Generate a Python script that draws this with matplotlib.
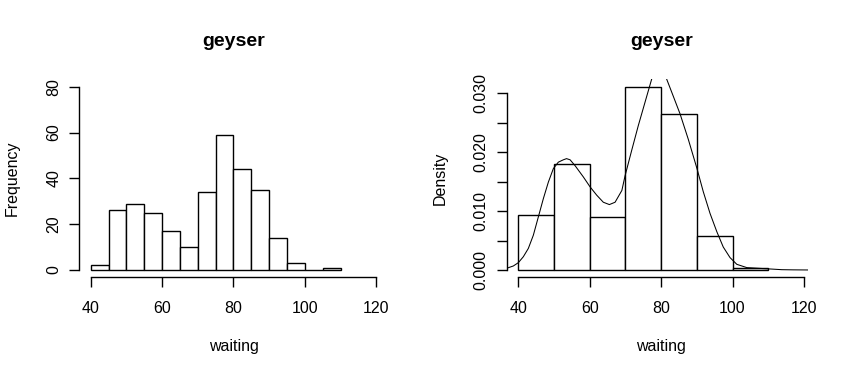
import matplotlib
matplotlib.use("Agg")
import matplotlib.pyplot as plt
import numpy as np

plt.rcParams["font.family"] = ["Liberation Sans", "DejaVu Sans"]

# geyser waiting times, 5-unit bins -> counts
freq_edges = [40, 45, 50, 55, 60, 65, 70, 75, 80, 85, 90, 95, 100, 105, 110]
freq_counts = [2, 26, 29, 25, 17, 10, 34, 59, 44, 35, 14, 3, 0, 1]

# same data, 10-unit bins -> density
dens_edges = [40, 50, 60, 70, 80, 90, 100, 110]
dens_values = [0.00936, 0.01806, 0.00903, 0.03110, 0.02642, 0.00569, 0.00033]

# density curve
kde_x = [34.0, 36.75, 38.6, 40.0, 41.4, 42.8, 44.2, 45.6, 47.0, 48.4, 49.8,
         51.2, 52.6, 53.5, 54.5, 55.9, 58.2, 60.1, 61.95, 63.8, 65.5, 67.1,
         69.0, 69.9, 71.75, 73.6, 75.5, 77.35, 78.5, 79.5, 80.5, 81.55, 83.4,
         85.3, 87.6, 90.0, 91.8, 93.7, 95.6, 97.4, 99.3, 101.2, 104.0, 106.8,
         110.5, 113.8, 117.0, 121.0]
kde_y = [0.00008, 0.00029, 0.00068, 0.00124, 0.00225, 0.00366, 0.0059,
         0.0090, 0.0121, 0.0149, 0.0172, 0.0183, 0.0187, 0.0189, 0.0187,
         0.0177, 0.0158, 0.0141, 0.0127, 0.0115, 0.0111, 0.0115, 0.0135,
         0.0160, 0.0203, 0.0245, 0.0285, 0.0324, 0.0337, 0.0341, 0.0336,
         0.0324, 0.0295, 0.0265, 0.0222, 0.0173, 0.0133, 0.0096, 0.0065,
         0.0039, 0.0021, 0.00096, 0.0004, 0.0003, 0.00017, 0.00005, 0.00002,
         0.0]

x_ticks = [40, 60, 80, 100, 120]
freq_ticks = [0, 20, 40, 60, 80]
dens_ticks = [0.0, 0.005, 0.010, 0.015, 0.020, 0.025, 0.030]
dens_labels = ["0.000", "", "0.010", "", "0.020", "", "0.030"]

FS = 11.5

fig = plt.figure(figsize=(8.56, 3.76), dpi=100)
ax1 = fig.add_axes([0.0926, 0.2625, 0.3603, 0.5263])
ax2 = fig.add_axes([0.5922, 0.2625, 0.3603, 0.5263])


def style_axes(ax, yticks, ylabels, ybounds, ylabel):
    for s in ["top", "right"]:
        ax.spines[s].set_visible(False)
    ax.spines["left"].set_bounds(*ybounds)
    ax.spines["bottom"].set_bounds(40, 120)
    for s in ["left", "bottom"]:
        ax.spines[s].set_linewidth(1.0)
    ax.set_xlim(36.8, 123.2)
    ax.set_xticks(x_ticks)
    ax.set_yticks(yticks)
    ax.set_yticklabels(ylabels)
    ax.tick_params(axis="both", direction="out", length=7, width=1.0,
                   labelsize=FS, color="black")
    ax.tick_params(axis="x", pad=10.2)
    ax.tick_params(axis="y", pad=6.0, labelrotation=90)
    for lab in ax.get_yticklabels():
        lab.set_va("center")
    ax.set_xlabel("waiting", fontsize=FS)
    ax.xaxis.set_label_coords(0.5, -0.371)
    ax.xaxis.label.set_va("baseline")
    ax.set_ylabel(ylabel, fontsize=FS)
    ax.yaxis.set_label_coords(-0.216, 0.5)
    ax.yaxis.label.set_va("center")
    ax.yaxis.label.set_ha("center")
    ax.text(0.5, 1.169, "geyser", transform=ax.transAxes, ha="center",
            va="baseline", fontsize=14, fontweight="bold")


# left: frequency histogram
ax1.bar(freq_edges[:-1], freq_counts, width=np.diff(freq_edges), align="edge",
        facecolor="white", edgecolor="black", linewidth=1.0)
ax1.set_ylim(-3.2, 83.2)
style_axes(ax1, freq_ticks, [str(t) for t in freq_ticks], (0, 80), "Frequency")

# right: density histogram + curve
ax2.bar(dens_edges[:-1], dens_values, width=np.diff(dens_edges), align="edge",
        facecolor="white", edgecolor="black", linewidth=1.0)
ax2.plot(kde_x, kde_y, color="black", linewidth=0.75, zorder=3)
ax2.set_ylim(-0.001244, 0.032348)
style_axes(ax2, dens_ticks, dens_labels, (0, 0.030), "Density")

fig.savefig("out.png", dpi=100)
